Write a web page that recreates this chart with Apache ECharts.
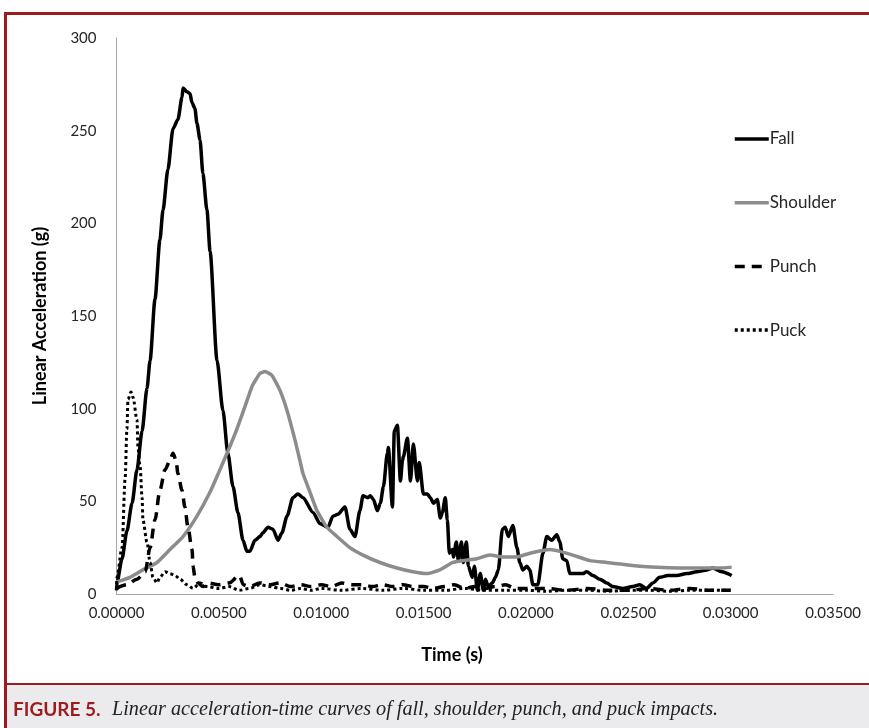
<!DOCTYPE html>
<html>
<head>
<meta charset="utf-8">
<script src="https://cdn.jsdelivr.net/npm/echarts@6/dist/echarts.min.js"></script>
<style>
html,body{margin:0;padding:0;background:#fff;}
#c{width:869px;height:728px;}
</style>
</head>
<body>
<div id="c"></div>
<script>
// ---- data (time in seconds, acceleration in g) ----
const xTicks = [0, 0.005, 0.010, 0.015, 0.020, 0.025, 0.030, 0.035];
const yTicks = [0, 50, 100, 150, 200, 250, 300];

const fallT = [0,0.00002,0.00027,0.00051,0.00076,0.00100,0.00125,0.00149,0.00164,0.00188,0.00212,0.00227,0.00251,0.00276,0.00300,0.00320,0.00325,0.00344,0.00359,0.00369,0.00383,0.00393,0.00408,0.00422,0.00442,0.00457,0.00491,0.00520,0.00544,0.00569,0.00593,0.00618,0.00637,0.00652,0.00676,0.00701,0.00715,0.00740,0.00764,0.00789,0.00808,0.00833,0.00862,0.00886,0.00911,0.00960,0.00994,0.01033,0.01057,0.01082,0.01116,0.01140,0.01165,0.01189,0.01204,0.01228,0.01240,0.01255,0.01274,0.01289,0.01304,0.01323,0.01328,0.01348,0.01357,0.01372,0.01387,0.01397,0.01401,0.01421,0.01436,0.01450,0.01470,0.01479,0.01499,0.01519,0.01533,0.01548,0.01567,0.01582,0.01592,0.01606,0.01616,0.01626,0.01641,0.01646,0.01660,0.01670,0.01685,0.01694,0.01709,0.01719,0.01738,0.01748,0.01763,0.01777,0.01792,0.01802,0.01816,0.01836,0.01851,0.01865,0.01885,0.01899,0.01914,0.01936,0.01956,0.01970,0.01985,0.02005,0.02019,0.02034,0.02058,0.02083,0.02102,0.02126,0.02151,0.02166,0.02180,0.02200,0.02214,0.02249,0.02278,0.02297,0.02327,0.02361,0.02395,0.02424,0.02473,0.02522,0.02556,0.02590,0.02620,0.02654,0.02693,0.02737,0.02786,0.02835,0.02884,0.02913,0.02957,0.03005];
const fallG = [2,6,19,34,49,67,88,111,126,159,191,207,229,251,256,268,273,271,270,265,262,254,245,227,207,185,126,99,76,58,44,29,23,23,29,31,33,36,35,29,33,42,52,54,52,44,38,36,42,43,47,35,31,45,53,52,53,51,45,49,58,76,79,47,88,91,61,72,74,84,61,81,61,71,54,54,52,49,51,41,44,52,40,22,24,20,28,18,28,17,28,15,9,15,2,11,2,8,4,6,9,13,35,36,31,37,25,17,13,15,13,5,5,22,31,29,32,28,19,18,11,11,11,12,10,8,6,4,3,4,5,3,6,9,10,10,11,12,13,14,12,10];

const shoulderT = [0,0.00066,0.00129,0.00198,0.00261,0.00325,0.00393,0.00457,0.00505,0.00544,0.00588,0.00627,0.00662,0.00701,0.00725,0.00759,0.00798,0.00833,0.00872,0.00896,0.00911,0.00945,0.00979,0.01028,0.01077,0.01140,0.01204,0.01287,0.01370,0.01448,0.01516,0.01580,0.01643,0.01692,0.01760,0.01824,0.01887,0.01956,0.02019,0.02117,0.02166,0.02229,0.02312,0.02395,0.02473,0.02556,0.02639,0.02800,0.02947,0.03005];
const shoulderG = [6.5,9,13,17,24,31,42,55,67,77,89,101,112,119,120,118,110,99,83,72,65,55,45,36,31,25,21,17,14,12,11,13,17,18,19,21,20,20,22,24,23,21,18,17,16,15,14.5,14,14,14.5];

const punchT = [0,0.0005,0.0010,0.0014,0.00164,0.00188,0.00212,0.00237,0.00261,0.00276,0.00291,0.00300,0.00320,0.00334,0.00349,0.00369,0.00374,0.00383,0.00398,0.00422,0.00442,0.0050,0.0055,0.0060,0.0062,0.0065,0.0070,0.0075,0.0080,0.0085,0.0090,0.0095,0.0100,0.0105,0.0110,0.0115,0.0120,0.0125,0.0130,0.0135,0.0140,0.0145,0.0150,0.0155,0.0160,0.0165,0.0170,0.0175,0.0180,0.0185,0.0190,0.0195,0.0200,0.0210,0.0220,0.0230,0.0240,0.0250,0.0260,0.0270,0.0280,0.0290,0.0300];
const punchG = [3,5,8,12,25,40,56,67,72,76,72,65,56,47,36,24,15,9,6,4,6,5,6,10,5,4,6,5,6,4,5,4,5,4,6,5,5,4,5,4,5,4,4,3,4,5,3,4,3,4,5,3,3,3,2,3,2,2,3,2,3,2,2];

const puckT = [0,0.00002,0.00027,0.00042,0.00051,0.00056,0.00071,0.00081,0.00100,0.00105,0.00115,0.00125,0.00129,0.00149,0.00164,0.00178,0.00198,0.00212,0.00237,0.00261,0.00286,0.00310,0.00344,0.00374,0.00408,0.00442,0.0050,0.0055,0.0060,0.0065,0.0070,0.0075,0.0080,0.0085,0.0090,0.0095,0.0100,0.0110,0.0120,0.0130,0.0140,0.0150,0.0160,0.0170,0.0180,0.0190,0.0200,0.0210,0.0220,0.0230,0.0240,0.0250,0.0260,0.0270,0.0280,0.0290,0.0300];
const puckG = [2,9,25,62,89,105,109,106,94,79,69,52,40,28,17,9,6,9,12,11,10,8,5,3,6,4,3,4,2,3,5,4,3,2,3,2,3,2,3,2,3,2,2,3,2,2,2,1.5,2,2,1.5,2,2,1.5,2,2,2];

const zip = (t, g) => t.map((v, i) => [v, g[i]]);

const chart = echarts.init(document.getElementById('c'), null, {renderer: 'canvas'});
const red = '#9c1b1f';
const axisText = {color: '#262626', fontFamily: 'Lato', fontSize: 15};
const W = 3.5;

chart.setOption({
  animation: false,
  backgroundColor: '#ffffff',
  grid: {left: 116.5, right: 36, top: 38, bottom: 134, containLabel: false},
  xAxis: {
    type: 'value', min: 0, max: 0.035, interval: 0.005,
    axisLine: {show: true, lineStyle: {color: '#a6a6a6', width: 1}},
    axisTick: {show: false},
    splitLine: {show: false},
    axisLabel: Object.assign({margin: 12, formatter: v => v.toFixed(5)}, axisText)
  },
  yAxis: {
    type: 'value', min: 0, max: 300, interval: 50,
    axisLine: {show: true, lineStyle: {color: '#a6a6a6', width: 1}},
    axisTick: {show: false},
    splitLine: {show: false},
    axisLabel: Object.assign({margin: 20}, axisText)
  },
  legend: {
    orient: 'vertical', left: 728, top: 125.5,
    itemWidth: 34, itemHeight: 14, itemGap: 46.7,
    itemStyle: {opacity: 0},
    lineStyle: {width: W},
    textStyle: {color: '#262626', fontFamily: 'Lato', fontSize: 17, padding: [0,0,0,-4]},
    data: ['Fall', 'Shoulder', 'Punch', 'Puck']
  },
  series: [
    {name: 'Fall', type: 'line', data: zip(fallT, fallG), showSymbol: false, symbol: 'none',
     smooth: 0.25, smoothMonotone: 'x',
     lineStyle: {color: '#000', width: W}, itemStyle: {color: '#000'}},
    {name: 'Shoulder', type: 'line', data: zip(shoulderT, shoulderG), showSymbol: false, symbol: 'none',
     smooth: 0.15,
     lineStyle: {color: '#8c8c8c', width: W}, itemStyle: {color: '#8c8c8c'}},
    {name: 'Punch', type: 'line', data: zip(punchT, punchG), showSymbol: false, symbol: 'none',
     smooth: 0.3, smoothMonotone: 'x',
     lineStyle: {color: '#000', width: W, type: [10, 7]}, itemStyle: {color: '#000'}},
    {name: 'Puck', type: 'line', data: zip(puckT, puckG), showSymbol: false, symbol: 'none',
     smooth: 0.3, smoothMonotone: 'x',
     lineStyle: {color: '#000', width: 3, type: [3, 3]}, itemStyle: {color: '#000'}}
  ],
  graphic: [
    {type: 'rect', shape: {x: 4, y: 12, width: 865, height: 3}, style: {fill: red}, silent: true},
    {type: 'rect', shape: {x: 4, y: 12, width: 3, height: 716}, style: {fill: red}, silent: true},
    {type: 'rect', shape: {x: 7, y: 685, width: 862, height: 43}, style: {fill: '#ebebed'}, silent: true},
    {type: 'rect', shape: {x: 7, y: 683, width: 862, height: 2}, style: {fill: red}, silent: true},
    {type: 'text', x: 40, y: 316, rotation: Math.PI / 2, style: {text: 'Linear Acceleration (g)', fontFamily: 'Lato', fontWeight: 'bold', fontSize: 18, fill: '#000', align: 'center', verticalAlign: 'middle'}},
    {type: 'text', x: 452, y: 655, style: {text: 'Time (s)', fontFamily: 'Lato', fontWeight: 'bold', fontSize: 18, fill: '#000', align: 'center', verticalAlign: 'middle'}},
    {type: 'text', x: 13, y: 710, style: {text: 'FIGURE 5.', fontFamily: 'Lato', fontWeight: 'bold', fontSize: 19, fill: red, verticalAlign: 'middle'}},
    {type: 'text', x: 112, y: 710, style: {text: 'Linear acceleration-time curves of fall, shoulder, punch, and puck impacts.', fontFamily: 'Liberation Serif', fontStyle: 'italic', fontSize: 20.2, fill: '#222', verticalAlign: 'middle'}}
  ]
});
</script>
</body>
</html>
